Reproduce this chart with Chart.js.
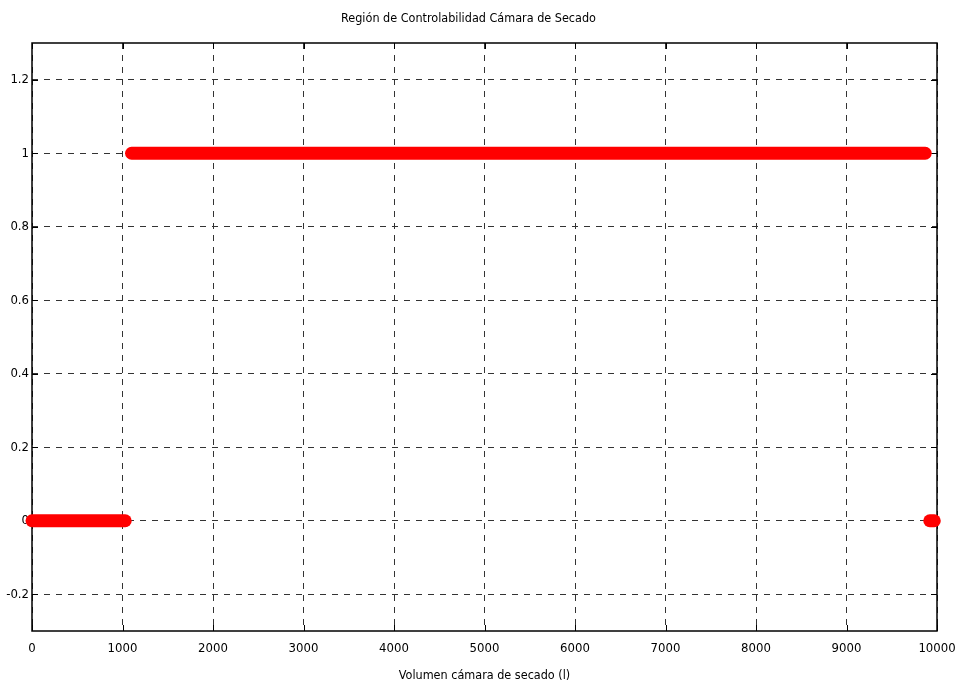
<!DOCTYPE html>
<html lang="es">
<head>
<meta charset="UTF-8" />
<title>Región de Controlabilidad</title>
<script src="https://cdn.jsdelivr.net/npm/chart.js@4.4.0/dist/chart.umd.min.js"></script>
<style>
  body { margin: 0; background: #fff; }
  canvas { display: block; }
</style>
</head>
<body>
<canvas id="chart" width="956" height="685"></canvas>
<script>
// step response of controllability over dryer volume (l): 0 = no, 1 = yes
const lowLeftX = [0, 1030];
const lowLeftY = [0, 0];
const highX = [1100, 9870];
const highY = [1, 1];
const lowRightX = [9920, 9970];
const lowRightY = [0, 0];

const xTicks = [0, 1000, 2000, 3000, 4000, 5000, 6000, 7000, 8000, 9000, 10000];
const yTicks = [-0.2, 0, 0.2, 0.4, 0.6, 0.8, 1, 1.2];

const FONT = "'Liberation Sans Narrow', 'DejaVu Sans Condensed', 'Liberation Sans', sans-serif";

function pts(xs, ys) {
  return xs.map((x, i) => ({ x: x, y: ys[i] }));
}

function seg(xs, ys) {
  return {
    data: pts(xs, ys),
    showLine: true,
    borderColor: '#ff0000',
    backgroundColor: '#ff0000',
    borderWidth: 13,
    borderCapStyle: 'round',
    pointRadius: 0,
    clip: false
  };
}

// box round the plot with small inward ticks, like the original
const framePlugin = {
  id: 'frame',
  beforeDatasetsDraw(chart) {
    const { ctx, chartArea: a, scales } = chart;
    ctx.save();
    ctx.strokeStyle = '#000';
    ctx.lineWidth = 1;
    ctx.beginPath();
    xTicks.forEach(v => {
      const px = Math.round(scales.x.getPixelForValue(v)) + 0.5;
      ctx.moveTo(px, a.bottom); ctx.lineTo(px, a.bottom - 6);
      ctx.moveTo(px, a.top); ctx.lineTo(px, a.top + 6);
    });
    yTicks.forEach(v => {
      const py = Math.round(scales.y.getPixelForValue(v)) + 0.5;
      ctx.moveTo(a.left, py); ctx.lineTo(a.left + 6, py);
      ctx.moveTo(a.right, py); ctx.lineTo(a.right - 6, py);
    });
    ctx.stroke();
    ctx.lineWidth = 1.5;
    ctx.strokeRect(a.left, a.top, a.right - a.left, a.bottom - a.top);
    ctx.restore();
  }
};

new Chart(document.getElementById('chart'), {
  type: 'scatter',
  data: {
    datasets: [seg(lowLeftX, lowLeftY), seg(highX, highY), seg(lowRightX, lowRightY)]
  },
  options: {
    responsive: false,
    animation: false,
    layout: { padding: { left: 0, right: 19, top: 0, bottom: 0 } },
    plugins: {
      legend: { display: false },
      tooltip: { enabled: false },
      title: {
        display: true,
        text: 'Región de Controlabilidad Cámara de Secado',
        color: '#000',
        font: { family: FONT, size: 12.5, weight: 'normal' },
        padding: { top: 11, bottom: 17 }
      }
    },
    scales: {
      x: {
        type: 'linear',
        min: 0,
        max: 10000,
        afterBuildTicks: s => { s.ticks = xTicks.map(v => ({ value: v })); },
        afterFit: s => { s.height = 54; s.paddingLeft = 0; s.paddingRight = 0; },
        border: { display: false, dash: [6, 6] },
        grid: { color: '#333', lineWidth: 1, drawTicks: false },
        ticks: {
          color: '#000',
          padding: 10,
          maxRotation: 0,
          font: { family: FONT, size: 13 },
          callback: v => String(v)
        },
        title: {
          display: true,
          text: 'Volumen cámara de secado (l)',
          color: '#000',
          font: { family: FONT, size: 12.5 },
          padding: { top: 0, bottom: 2 }
        }
      },
      y: {
        type: 'linear',
        min: -0.3,
        max: 1.3,
        afterBuildTicks: s => { s.ticks = yTicks.map(v => ({ value: v })); },
        afterFit: s => { s.width = 32; },
        border: { display: false, dash: [6, 6] },
        grid: { color: '#333', lineWidth: 1, drawTicks: false },
        ticks: {
          color: '#000',
          padding: 3,
          font: { family: FONT, size: 13 },
          callback: v => String(v)
        }
      }
    }
  },
  plugins: [framePlugin]
});
</script>
</body>
</html>
